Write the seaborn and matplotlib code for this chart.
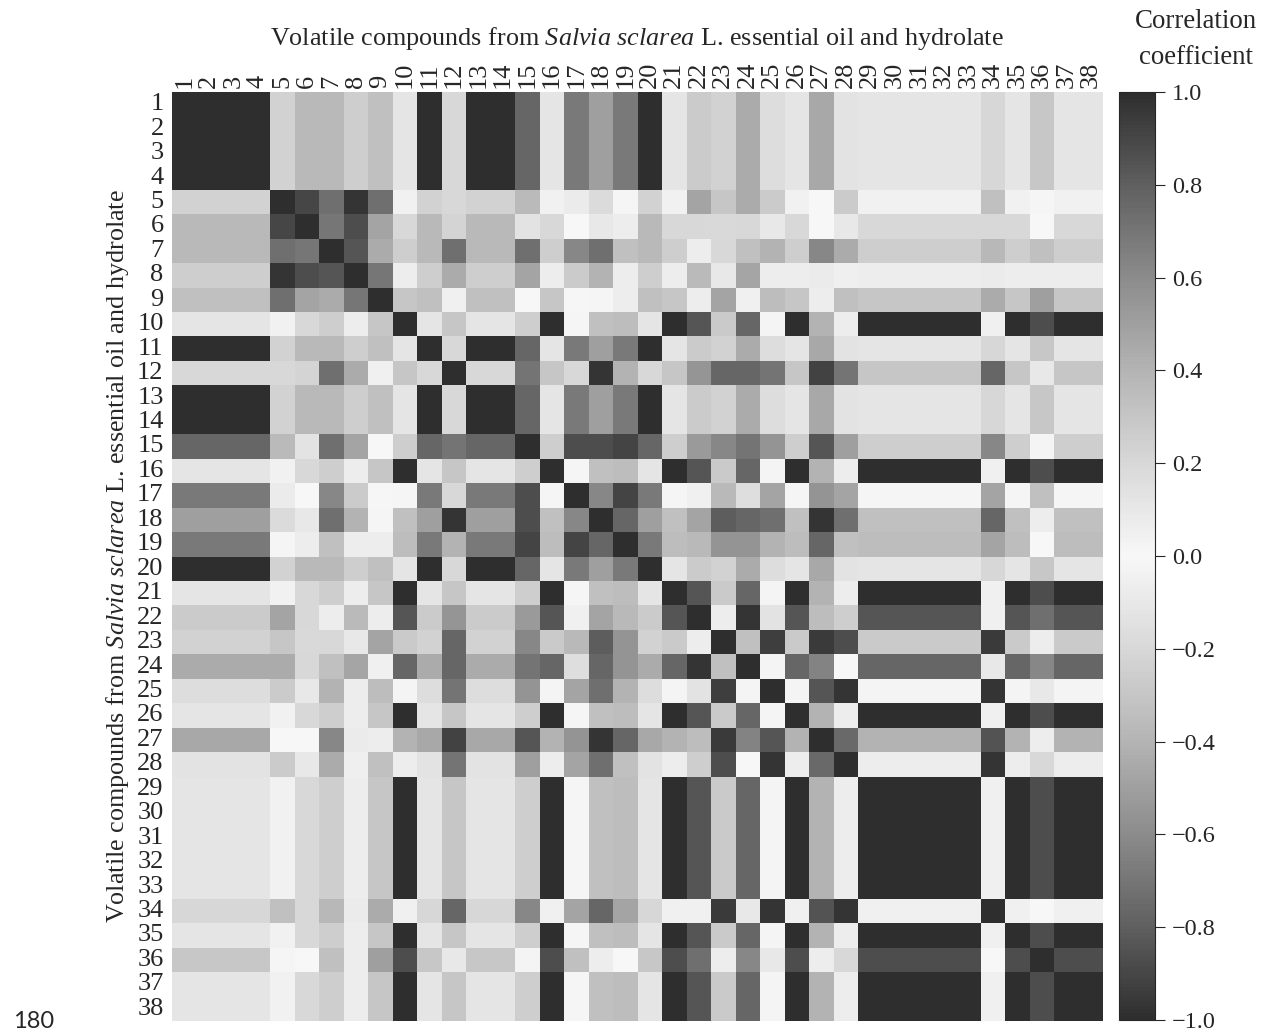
import numpy as np
import matplotlib
matplotlib.use("Agg")
import matplotlib.pyplot as plt
from matplotlib.colors import LinearSegmentedColormap
import seaborn as sns

# compound numbers (axis labels)
compounds = [str(i) for i in range(1, 39)]

# correlation coefficients, lower triangle read row by row (row i holds columns 1..i)
r01 = [1.00]
r02 = [1.00, 1.00]
r03 = [1.00, 1.00, 1.00]
r04 = [1.00, 1.00, 1.00, 1.00]
r05 = [0.23, 0.23, 0.23, 0.23, 1.00]
r06 = [0.37, 0.37, 0.37, 0.37, 0.90, 1.00]
r07 = [0.37, 0.37, 0.37, 0.37, 0.73, 0.70, 1.00]
r08 = [0.25, 0.25, 0.25, 0.25, 0.97, 0.87, 0.84, 1.00]
r09 = [0.33, 0.33, 0.33, 0.33, 0.73, 0.48, 0.44, 0.70, 1.00]
r10 = [0.12, 0.12, 0.12, 0.12, 0.04, 0.20, 0.25, 0.07, 0.30, 1.00]
r11 = [1.00, 1.00, 1.00, 1.00, 0.23, 0.37, 0.37, 0.25, 0.33, 0.12, 1.00]
r12 = [0.20, 0.20, 0.20, 0.20, 0.20, 0.22, 0.73, 0.44, 0.05, 0.30, 0.20, 1.00]
r13 = [1.00, 1.00, 1.00, 1.00, 0.23, 0.37, 0.37, 0.25, 0.33, 0.12, 1.00, 0.20, 1.00]
r14 = [1.00, 1.00, 1.00, 1.00, 0.23, 0.37, 0.37, 0.25, 0.33, 0.12, 1.00, 0.20, 1.00, 1.00]
r15 = [0.77, 0.77, 0.77, 0.77, 0.36, 0.13, 0.73, 0.48, 0.00, 0.25, 0.77, 0.71, 0.77, 0.77, 1.00]
r16 = [0.12, 0.12, 0.12, 0.12, 0.04, 0.20, 0.25, 0.07, 0.30, 1.00, 0.12, 0.30, 0.12, 0.12, 0.25, 1.00]
r17 = [0.68, 0.68, 0.68, 0.68, 0.08, 0.00, 0.62, 0.27, 0.01, 0.02, 0.68, 0.20, 0.68, 0.68, 0.87, 0.02,
       1.00]
r18 = [0.50, 0.50, 0.50, 0.50, 0.18, 0.10, 0.73, 0.40, 0.02, 0.33, 0.50, 0.97, 0.50, 0.50, 0.87, 0.33,
       0.62, 1.00]
r19 = [0.68, 0.68, 0.68, 0.68, 0.02, 0.07, 0.33, 0.07, 0.07, 0.35, 0.68, 0.40, 0.68, 0.68, 0.91, 0.35,
       0.91, 0.77, 1.00]
r20 = [1.00, 1.00, 1.00, 1.00, 0.23, 0.37, 0.37, 0.25, 0.33, 0.12, 1.00, 0.20, 1.00, 1.00, 0.77, 0.12,
       0.68, 0.50, 0.68, 1.00]
r21 = [0.12, 0.12, 0.12, 0.12, 0.04, 0.20, 0.25, 0.07, 0.30, 1.00, 0.12, 0.30, 0.12, 0.12, 0.25, 1.00,
       0.02, 0.33, 0.35, 0.12, 1.00]
r22 = [0.27, 0.27, 0.27, 0.27, 0.48, 0.20, 0.07, 0.36, 0.07, 0.84, 0.27, 0.55, 0.27, 0.27, 0.53, 0.84,
       0.05, 0.48, 0.37, 0.27, 0.84, 1.00]
r23 = [0.23, 0.23, 0.23, 0.23, 0.30, 0.19, 0.20, 0.10, 0.48, 0.28, 0.23, 0.77, 0.23, 0.23, 0.62, 0.28,
       0.37, 0.81, 0.56, 0.23, 0.28, 0.07, 1.00]
r24 = [0.44, 0.44, 0.44, 0.44, 0.44, 0.20, 0.33, 0.47, 0.05, 0.77, 0.44, 0.77, 0.44, 0.44, 0.71, 0.77,
       0.16, 0.77, 0.56, 0.44, 0.77, 0.97, 0.33, 1.00]
r25 = [0.17, 0.17, 0.17, 0.17, 0.27, 0.10, 0.40, 0.07, 0.35, 0.03, 0.17, 0.71, 0.17, 0.17, 0.56, 0.03,
       0.48, 0.73, 0.40, 0.17, 0.03, 0.13, 0.93, 0.03, 1.00]
r26 = [0.12, 0.12, 0.12, 0.12, 0.04, 0.20, 0.25, 0.07, 0.30, 1.00, 0.12, 0.30, 0.12, 0.12, 0.25, 1.00,
       0.02, 0.33, 0.35, 0.12, 1.00, 0.84, 0.28, 0.77, 0.03, 1.00]
r27 = [0.46, 0.46, 0.46, 0.46, 0.00, 0.00, 0.62, 0.08, 0.07, 0.40, 0.46, 0.92, 0.46, 0.46, 0.84, 0.40,
       0.56, 0.97, 0.77, 0.46, 0.40, 0.35, 0.95, 0.64, 0.84, 0.40, 1.00]
r28 = [0.13, 0.13, 0.13, 0.13, 0.27, 0.10, 0.44, 0.06, 0.33, 0.07, 0.13, 0.71, 0.13, 0.13, 0.50, 0.07,
       0.48, 0.73, 0.33, 0.13, 0.07, 0.25, 0.87, 0.00, 0.97, 0.07, 0.75, 1.00]
r29 = [0.12, 0.12, 0.12, 0.12, 0.04, 0.20, 0.25, 0.07, 0.30, 1.00, 0.12, 0.30, 0.12, 0.12, 0.25, 1.00,
       0.02, 0.33, 0.35, 0.12, 1.00, 0.84, 0.28, 0.77, 0.03, 1.00, 0.40, 0.07, 1.00]
r30 = [0.12, 0.12, 0.12, 0.12, 0.04, 0.20, 0.25, 0.07, 0.30, 1.00, 0.12, 0.30, 0.12, 0.12, 0.25, 1.00,
       0.02, 0.33, 0.35, 0.12, 1.00, 0.84, 0.28, 0.77, 0.03, 1.00, 0.40, 0.07, 1.00, 1.00]
r31 = [0.12, 0.12, 0.12, 0.12, 0.04, 0.20, 0.25, 0.07, 0.30, 1.00, 0.12, 0.30, 0.12, 0.12, 0.25, 1.00,
       0.02, 0.33, 0.35, 0.12, 1.00, 0.84, 0.28, 0.77, 0.03, 1.00, 0.40, 0.07, 1.00, 1.00, 1.00]
r32 = [0.12, 0.12, 0.12, 0.12, 0.04, 0.20, 0.25, 0.07, 0.30, 1.00, 0.12, 0.30, 0.12, 0.12, 0.25, 1.00,
       0.02, 0.33, 0.35, 0.12, 1.00, 0.84, 0.28, 0.77, 0.03, 1.00, 0.40, 0.07, 1.00, 1.00, 1.00, 1.00]
r33 = [0.12, 0.12, 0.12, 0.12, 0.04, 0.20, 0.25, 0.07, 0.30, 1.00, 0.12, 0.30, 0.12, 0.12, 0.25, 1.00,
       0.02, 0.33, 0.35, 0.12, 1.00, 0.84, 0.28, 0.77, 0.03, 1.00, 0.40, 0.07, 1.00, 1.00, 1.00, 1.00,
       1.00]
r34 = [0.21, 0.21, 0.21, 0.21, 0.33, 0.20, 0.38, 0.08, 0.44, 0.05, 0.21, 0.77, 0.21, 0.21, 0.62, 0.05,
       0.48, 0.77, 0.48, 0.21, 0.05, 0.05, 0.95, 0.10, 0.97, 0.05, 0.85, 0.97, 0.05, 0.05, 0.05, 0.05,
       0.05, 1.00]
r35 = [0.12, 0.12, 0.12, 0.12, 0.04, 0.20, 0.25, 0.07, 0.30, 1.00, 0.12, 0.30, 0.12, 0.12, 0.25, 1.00,
       0.02, 0.33, 0.35, 0.12, 1.00, 0.84, 0.28, 0.77, 0.03, 1.00, 0.40, 0.07, 1.00, 1.00, 1.00, 1.00,
       1.00, 0.05, 1.00]
r36 = [0.29, 0.29, 0.29, 0.29, 0.02, 0.00, 0.33, 0.07, 0.50, 0.87, 0.29, 0.10, 0.29, 0.29, 0.03, 0.87,
       0.33, 0.07, 0.00, 0.29, 0.87, 0.73, 0.07, 0.62, 0.10, 0.87, 0.07, 0.20, 0.87, 0.87, 0.87, 0.87,
       0.87, 0.00, 0.87, 1.00]
r37 = [0.12, 0.12, 0.12, 0.12, 0.04, 0.20, 0.25, 0.07, 0.30, 1.00, 0.12, 0.30, 0.12, 0.12, 0.25, 1.00,
       0.02, 0.33, 0.35, 0.12, 1.00, 0.84, 0.28, 0.77, 0.03, 1.00, 0.40, 0.07, 1.00, 1.00, 1.00, 1.00,
       1.00, 0.05, 1.00, 0.87, 1.00]
r38 = [0.12, 0.12, 0.12, 0.12, 0.04, 0.20, 0.25, 0.07, 0.30, 1.00, 0.12, 0.30, 0.12, 0.12, 0.25, 1.00,
       0.02, 0.33, 0.35, 0.12, 1.00, 0.84, 0.28, 0.77, 0.03, 1.00, 0.40, 0.07, 1.00, 1.00, 1.00, 1.00,
       1.00, 0.05, 1.00, 0.87, 1.00, 1.00]

rows = [r01, r02, r03, r04, r05, r06, r07, r08, r09, r10, r11, r12, r13, r14, r15, r16, r17, r18, r19,
        r20, r21, r22, r23, r24, r25, r26, r27, r28, r29, r30, r31, r32, r33, r34, r35, r36, r37, r38]

cbar_ticks = [1.0, 0.8, 0.6, 0.4, 0.2, 0.0, -0.2, -0.4, -0.6, -0.8, -1.0]

# build the symmetric matrix from the lower triangle
n = len(compounds)
corr = np.zeros((n, n))
for i, row in enumerate(rows):
    corr[i, :len(row)] = row
corr = corr + np.tril(corr, -1).T

# grey scale that is dark at both ends and white at zero
pos = [0.0, 0.1, 0.2, 0.3, 0.4, 0.5, 0.6, 0.7, 0.8, 0.9, 1.0]
greys = ['#2e2e2e', '#606060', '#8c8c8c', '#b4b4b4', '#d8d8d8', '#f8f8f8',
         '#d8d8d8', '#b4b4b4', '#8c8c8c', '#606060', '#2e2e2e']
cmap = LinearSegmentedColormap.from_list('absgrey', list(zip(pos, greys)))

sns.set_style('white')
plt.rcParams['font.family'] = ['Liberation Serif', 'DejaVu Serif']
plt.rcParams['mathtext.fontset'] = 'custom'
plt.rcParams['mathtext.rm'] = 'Liberation Serif'
plt.rcParams['mathtext.it'] = 'Liberation Serif:italic'

W, H = 1261, 1034
fig = plt.figure(figsize=(W / 100, H / 100), dpi=100)
ax = fig.add_axes([172 / W, 1 - 1021 / H, 931 / W, 929 / H])
cax = fig.add_axes([1119 / W, 1 - 1020 / H, 36 / W, 928 / H])

sns.heatmap(corr, ax=ax, cbar_ax=cax, cmap=cmap, vmin=-1, vmax=1,
            xticklabels=compounds, yticklabels=compounds, linewidths=0)

ax.xaxis.tick_top()
ax.tick_params(axis='x', length=0, pad=3, labelsize=19, rotation=90)
ax.tick_params(axis='y', length=0, pad=6, labelsize=19, rotation=0)
for t in ax.get_xticklabels():
    t.set_va('bottom')

cbar = ax.collections[0].colorbar
cbar.set_ticks(cbar_ticks)
cbar.set_ticklabels([f'{v:.1f}'.replace('-', '\u2212') for v in cbar_ticks])
cbar.outline.set_linewidth(0.8)
cax.tick_params(length=7, width=0.8, labelsize=17.5, pad=5)

label = 'Volatile compounds from $Salvia$ $sclarea$ L. essential oil and hydrolate'
fig.text(637 / W, 1 - 38 / H, label, ha='center', va='center', fontsize=18.8)
fig.text(118 / W, 1 - 556 / H, label, ha='center', va='center', rotation=90, fontsize=18.8)
fig.text(1196 / W, 1 - 22 / H, 'Correlation', ha='center', va='center', fontsize=19.4)
fig.text(1196 / W, 1 - 58 / H, 'coefficient', ha='center', va='center', fontsize=19.4)
fig.text(13 / W, 1 - 1022 / H, '180', ha='left', va='center', fontsize=17, family='Lato')

fig.savefig('out.png', dpi=100)
